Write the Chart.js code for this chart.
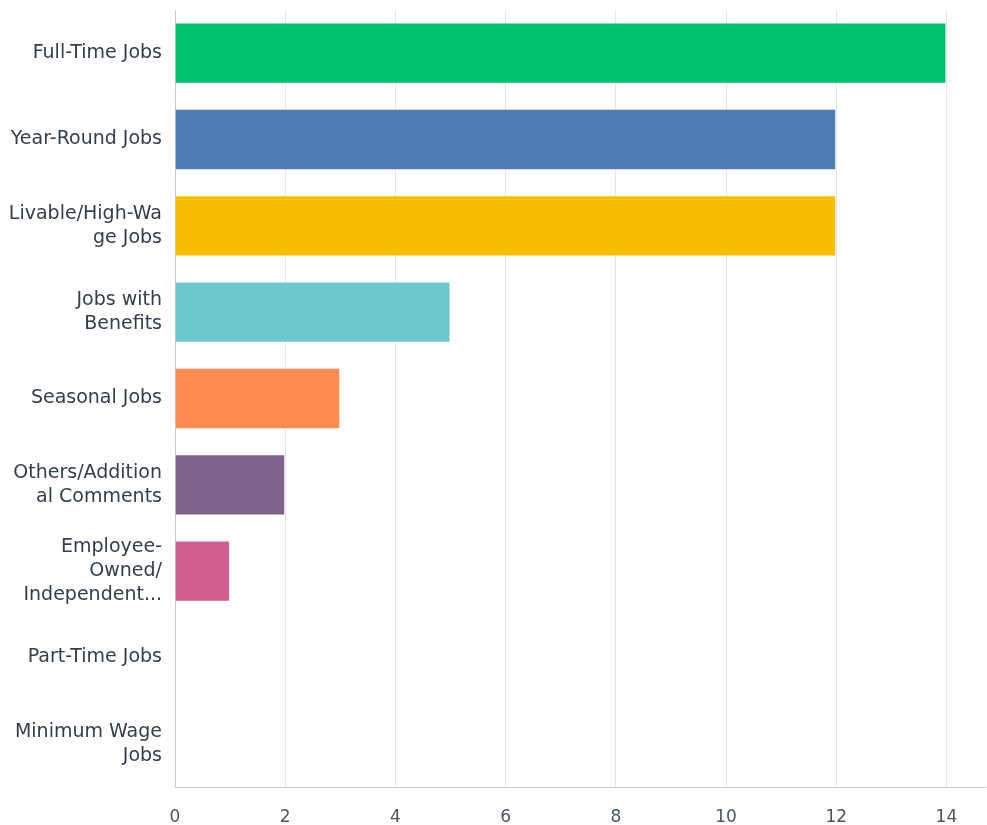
<!DOCTYPE html>
<html>
<head>
<meta charset="utf-8">
<script src="https://cdn.jsdelivr.net/npm/chart.js@4/dist/chart.umd.min.js"></script>
<style>
  html, body { margin: 0; padding: 0; background: #fff; }
  #wrap { width: 987px; height: 825px; }
</style>
</head>
<body>
<div id="wrap"><canvas id="jobs"></canvas></div>
<script>
// Categories (multi-line labels as they wrap in the picture)
const categories = [
  "Full-Time Jobs",
  "Year-Round Jobs",
  ["Livable/High-Wa", "ge Jobs"],
  ["Jobs with", "Benefits"],
  "Seasonal Jobs",
  ["Others/Addition", "al Comments"],
  ["Employee-", "Owned/", "Independent..."],
  "Part-Time Jobs",
  ["Minimum Wage", "Jobs"]
];
const counts = [14, 12, 12, 5, 3, 2, 1, 0, 0];
const barColors = ["#00bf6f", "#507cb6", "#f9be00", "#6bc8cd", "#ff8b4f", "#7f628b", "#d25f90", "#999999", "#999999"];
const tickValues = [0, 2, 4, 6, 8, 10, 12, 14];

//====================================
// Building the horizontal bar chart
let data = {
  "labels": categories,
  "datasets": [{
    "data": counts,
    "backgroundColor": barColors,
    "borderColor": "rgba(255,255,255,0.35)",
    "borderWidth": 1,
    "categoryPercentage": 0.71,
    "barPercentage": 1.0
  }]
};

let labelFont = "'DejaVu Sans', sans-serif";

let options = {
  "indexAxis": "y",
  "responsive": true,
  "maintainAspectRatio": false,
  "animation": false,
  "layout": {"padding": {"top": 10, "right": 2, "left": 0, "bottom": 0}},
  "plugins": {"legend": {"display": false}, "tooltip": {"enabled": false}},
  "scales": {
    "x": {
      "min": 0,
      "max": 14.7,
      "border": {"color": "#cccccc", "width": 1},
      "grid": {"color": "#e6e6e6", "drawTicks": false},
      "afterBuildTicks": function(scale){
        // only the even ticks, no extra one at the max
        scale.ticks = tickValues.map(v => ({value: v}));
      },
      "afterFit": function(scale){
        scale.height = 38;
        scale.paddingLeft = 0;
        scale.paddingRight = 0;
      },
      "ticks": {
        "padding": 20,
        "color": "#4a5560",
        "font": {"family": labelFont, "size": 17}
      }
    },
    "y": {
      "border": {"color": "#cccccc", "width": 1},
      "grid": {"display": false, "drawTicks": false},
      "afterFit": function(scale){
        // fixed label column, no extra room for tall labels
        scale.width = 175;
        scale.paddingTop = 0;
        scale.paddingBottom = 0;
      },
      "ticks": {
        "padding": 13,
        "color": "#333e48",
        "font": {"family": labelFont, "size": 19, "lineHeight": 1.26}
      }
    }
  }
};

let canvas = document.getElementById("jobs");
chart = new Chart(canvas, {"type": "bar", "data": data, "options": options});
</script>
</body>
</html>
